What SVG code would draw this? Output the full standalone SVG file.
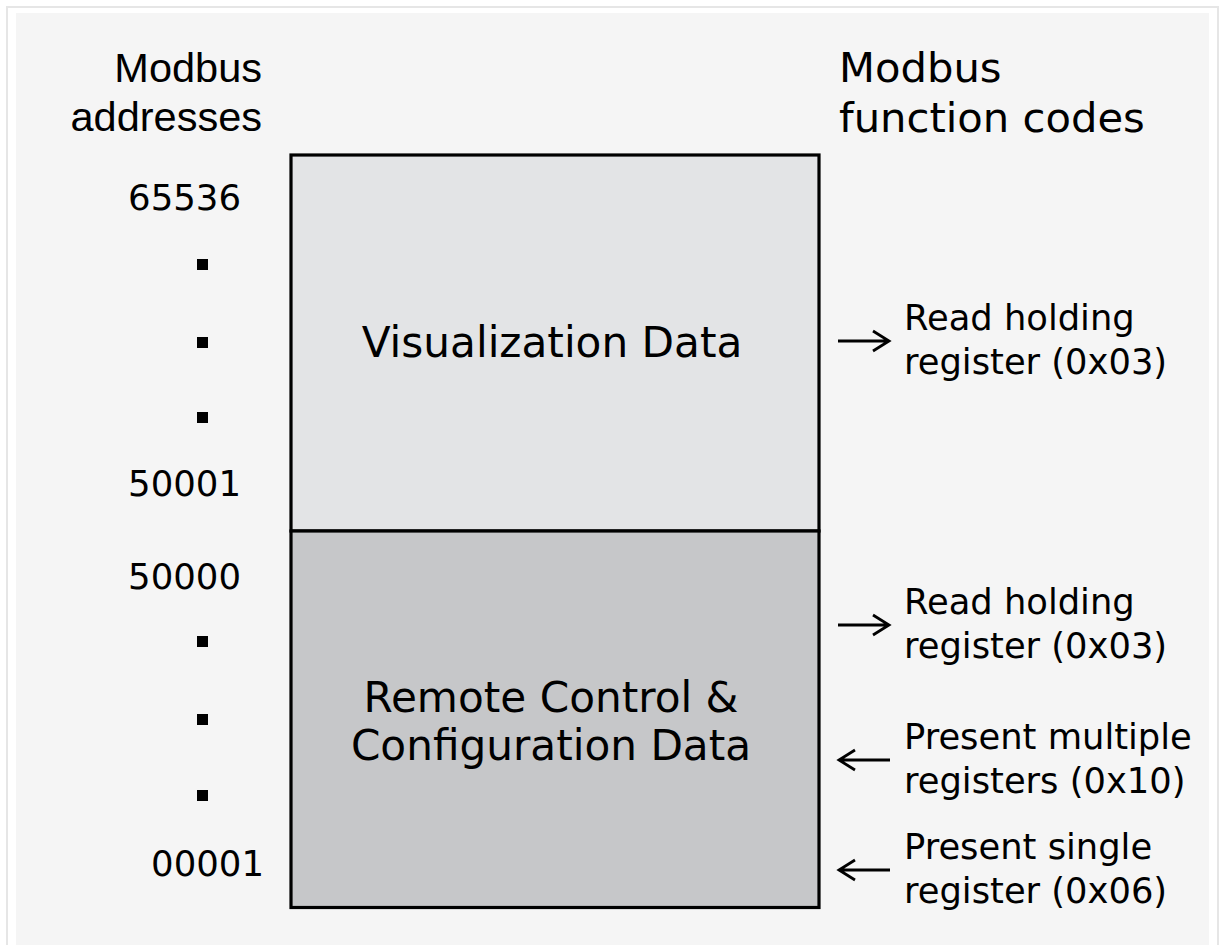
<svg xmlns="http://www.w3.org/2000/svg" width="1221" height="945" viewBox="0 0 1221 945">
  <defs>
    <style>
      .title-l { font-family: "Liberation Sans", Arial, sans-serif; font-size: 41.5px; fill: #000; }
      .title-r { font-family: "DejaVu Sans", sans-serif; font-size: 41.7px; fill: #000; }
      .box-label { font-family: "DejaVu Sans", sans-serif; font-size: 42.2px; fill: #000; text-anchor: middle; }
      .num { font-family: "DejaVu Sans", sans-serif; font-size: 35.5px; fill: #000; text-anchor: end; }
      .fn { font-family: "DejaVu Sans", sans-serif; font-size: 35.3px; fill: #000; }
      .arrow { fill: none; stroke: #000; stroke-width: 2.8; stroke-linecap: butt; stroke-linejoin: miter; }
      .dot { fill: #000; }
    </style>
  </defs>

  <rect x="0" y="0" width="1221" height="945" fill="#ffffff"/>
  <rect x="7" y="7" width="1211" height="960" fill="#ffffff" stroke="#e6e6e6" stroke-width="2"/>
  <rect x="16" y="13" width="1193" height="932" fill="#f5f5f5"/>

  <g id="header-addresses">
    <text class="title-l" x="262" y="82" text-anchor="end">Modbus</text>
    <text class="title-l" x="262" y="131" text-anchor="end">addresses</text>
  </g>
  <g id="header-function-codes">
    <text class="title-r" x="839" y="82">Modbus</text>
    <text class="title-r" x="839" y="132">function codes</text>
  </g>

  <g id="node-visualization">
    <rect x="291" y="155" width="528" height="376" fill="#e3e4e6" stroke="#000" stroke-width="3.2"/>
    <text class="box-label" x="552" y="357">Visualization Data</text>
  </g>
  <g id="node-remote-control">
    <rect x="291" y="531" width="528" height="376.5" fill="#c6c7c9" stroke="#000" stroke-width="3.2"/>
    <text class="box-label" x="551" y="712">Remote Control &amp;</text>
    <text class="box-label" x="551" y="760">Configuration Data</text>
  </g>

  <g id="addresses">
    <text class="num" x="241" y="210">65536</text>
    <rect class="dot" x="197" y="259" width="11" height="11"/>
    <rect class="dot" x="197" y="337" width="11" height="11"/>
    <rect class="dot" x="197" y="412" width="11" height="11"/>
    <text class="num" x="241" y="496">50001</text>
    <text class="num" x="241" y="589">50000</text>
    <rect class="dot" x="197" y="636" width="11" height="11"/>
    <rect class="dot" x="197" y="714" width="11" height="11"/>
    <rect class="dot" x="197" y="790" width="11" height="11"/>
    <text class="num" x="264" y="876">00001</text>
  </g>

  <g id="connectors">
    <path class="arrow" d="M838 341 H889 M873 331 L889 341 L873 351"/>
    <path class="arrow" d="M838 625 H889 M873 615 L889 625 L873 635"/>
    <path class="arrow" d="M890 760 H839 M855 750 L839 760 L855 770"/>
    <path class="arrow" d="M890 870 H839 M855 860 L839 870 L855 880"/>
  </g>

  <g id="fn-read-1">
    <text class="fn" x="904" y="330">Read holding</text>
    <text class="fn" x="904" y="374">register (0x03)</text>
  </g>
  <g id="fn-read-2">
    <text class="fn" x="904" y="614">Read holding</text>
    <text class="fn" x="904" y="658">register (0x03)</text>
  </g>
  <g id="fn-multiple">
    <text class="fn" x="904" y="749">Present multiple</text>
    <text class="fn" x="904" y="793">registers (0x10)</text>
  </g>
  <g id="fn-single">
    <text class="fn" x="904" y="859">Present single</text>
    <text class="fn" x="904" y="903">register (0x06)</text>
  </g>
</svg>
